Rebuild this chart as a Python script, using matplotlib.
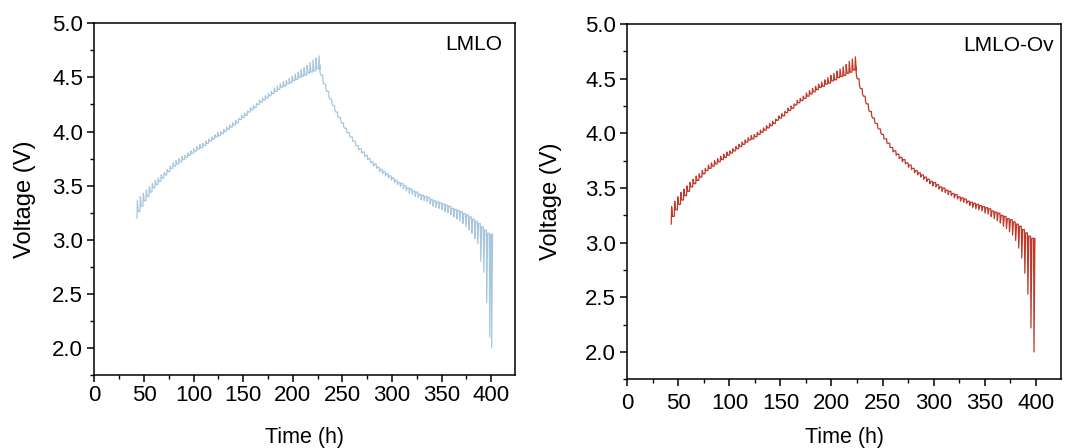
import numpy as np
import matplotlib
matplotlib.use("Agg")
import matplotlib.pyplot as plt
from matplotlib.ticker import MultipleLocator

plt.rcParams['font.family'] = ['Liberation Sans', 'DejaVu Sans']

# ---- LMLO (left) ----
# charge pulses: start time (h), relaxed voltage, peak voltage
lmlo_t_chg = [43, 46, 49, 52, 55, 58, 61, 64, 67, 70, 73, 76, 79, 82, 85, 88, 91, 94, 97, 100,
              103, 106, 109, 112, 115, 118, 121, 124, 127, 130, 133, 136, 139, 142, 145, 148, 151,
              154, 157, 160, 163, 166, 169, 172, 175, 178, 181, 184, 187, 190, 193, 196, 199, 202,
              205, 208, 211, 214, 217, 220, 223, 226]
lmlo_lo_chg = [3.20, 3.26, 3.31, 3.36, 3.40, 3.44, 3.48, 3.51, 3.54, 3.57, 3.60, 3.63, 3.66, 3.68,
               3.70, 3.72, 3.74, 3.76, 3.78, 3.80, 3.82, 3.84, 3.85, 3.87, 3.89, 3.91, 3.93, 3.95,
               3.96, 3.98, 4.00, 4.02, 4.04, 4.06, 4.08, 4.11, 4.13, 4.15, 4.18, 4.20, 4.22, 4.25,
               4.27, 4.29, 4.31, 4.33, 4.35, 4.37, 4.39, 4.41, 4.42, 4.44, 4.45, 4.47, 4.48, 4.50,
               4.51, 4.52, 4.54, 4.55, 4.56, 4.58]
lmlo_hi_chg = [3.36, 3.40, 3.43, 3.46, 3.49, 3.52, 3.55, 3.57, 3.60, 3.62, 3.65, 3.68, 3.71, 3.73,
               3.75, 3.77, 3.78, 3.80, 3.82, 3.84, 3.86, 3.88, 3.89, 3.91, 3.93, 3.95, 3.97, 3.99,
               4.00, 4.02, 4.04, 4.06, 4.08, 4.10, 4.12, 4.15, 4.17, 4.19, 4.22, 4.24, 4.26, 4.29,
               4.31, 4.33, 4.35, 4.37, 4.40, 4.42, 4.44, 4.46, 4.47, 4.49, 4.51, 4.53, 4.55, 4.57,
               4.59, 4.61, 4.64, 4.66, 4.68, 4.70]
# discharge pulses: start time (h), relaxed voltage, trough voltage
lmlo_t_dis = [227, 230, 233, 236, 239, 242, 245, 248, 251, 254, 257, 260, 263, 266, 269, 272, 275,
              278, 281, 284, 287, 290, 293, 296, 299, 302, 305, 308, 311, 314, 317, 320, 323, 326,
              329, 332, 335, 338, 341, 344, 347, 350, 353, 356, 359, 362, 365, 368, 371, 374, 377,
              380, 383, 386, 389, 392, 395, 398, 400]
lmlo_up_dis = [4.62, 4.52, 4.44, 4.37, 4.30, 4.24, 4.18, 4.13, 4.08, 4.03, 3.99, 3.95, 3.91, 3.87,
               3.84, 3.81, 3.78, 3.75, 3.72, 3.70, 3.67, 3.65, 3.63, 3.61, 3.59, 3.57, 3.55, 3.53,
               3.52, 3.50, 3.48, 3.47, 3.45, 3.44, 3.42, 3.41, 3.40, 3.39, 3.37, 3.36, 3.35, 3.34,
               3.33, 3.32, 3.31, 3.29, 3.28, 3.27, 3.26, 3.24, 3.23, 3.21, 3.19, 3.17, 3.15, 3.12,
               3.09, 3.06, 3.05]
lmlo_dn_dis = [4.55, 4.46, 4.39, 4.32, 4.26, 4.20, 4.14, 4.09, 4.04, 3.99, 3.95, 3.91, 3.87, 3.83,
               3.80, 3.77, 3.74, 3.71, 3.68, 3.66, 3.63, 3.61, 3.59, 3.57, 3.55, 3.53, 3.51, 3.49,
               3.47, 3.45, 3.43, 3.42, 3.40, 3.39, 3.37, 3.36, 3.35, 3.33, 3.31, 3.30, 3.29, 3.28,
               3.26, 3.25, 3.23, 3.21, 3.19, 3.17, 3.15, 3.12, 3.09, 3.06, 3.01, 2.96, 2.80, 2.70,
               2.42, 2.10, 2.00]

# ---- LMLO-Ov (right) ----
ov_t_chg = [43, 46, 49, 52, 55, 58, 61, 64, 67, 70, 73, 76, 79, 82, 85, 88, 91, 94, 97, 100,
            103, 106, 109, 112, 115, 118, 121, 124, 127, 130, 133, 136, 139, 142, 145, 148, 151,
            154, 157, 160, 163, 166, 169, 172, 175, 178, 181, 184, 187, 190, 193, 196, 199, 202,
            205, 208, 211, 214, 217, 220, 223]
ov_lo_chg = [3.17, 3.24, 3.30, 3.35, 3.39, 3.43, 3.47, 3.51, 3.54, 3.57, 3.60, 3.63, 3.66, 3.68,
             3.70, 3.72, 3.74, 3.76, 3.78, 3.80, 3.82, 3.84, 3.86, 3.88, 3.90, 3.92, 3.94, 3.95,
             3.97, 3.99, 4.01, 4.03, 4.05, 4.07, 4.09, 4.12, 4.14, 4.16, 4.19, 4.21, 4.23, 4.26,
             4.28, 4.30, 4.32, 4.34, 4.36, 4.38, 4.40, 4.42, 4.43, 4.45, 4.46, 4.48, 4.49, 4.51,
             4.52, 4.53, 4.55, 4.56, 4.58]
ov_hi_chg = [3.33, 3.38, 3.42, 3.46, 3.49, 3.52, 3.55, 3.58, 3.61, 3.63, 3.66, 3.68, 3.71, 3.73,
             3.75, 3.77, 3.79, 3.81, 3.83, 3.84, 3.86, 3.88, 3.90, 3.92, 3.94, 3.96, 3.98, 3.99,
             4.01, 4.03, 4.05, 4.07, 4.09, 4.11, 4.13, 4.16, 4.18, 4.20, 4.23, 4.25, 4.27, 4.30,
             4.32, 4.34, 4.37, 4.39, 4.41, 4.43, 4.45, 4.47, 4.49, 4.51, 4.53, 4.55, 4.57, 4.59,
             4.61, 4.63, 4.66, 4.68, 4.70]
ov_t_dis = [224, 227, 230, 233, 236, 239, 242, 245, 248, 251, 254, 257, 260, 263, 266, 269, 272,
            275, 278, 281, 284, 287, 290, 293, 296, 299, 302, 305, 308, 311, 314, 317, 320, 323,
            326, 329, 332, 335, 338, 341, 344, 347, 350, 353, 356, 359, 362, 365, 368, 371, 374,
            377, 380, 383, 386, 389, 392, 395, 398]
ov_up_dis = [4.60, 4.50, 4.41, 4.34, 4.27, 4.20, 4.14, 4.09, 4.04, 3.99, 3.95, 3.91, 3.87, 3.84,
             3.81, 3.78, 3.76, 3.73, 3.71, 3.68, 3.66, 3.64, 3.62, 3.60, 3.58, 3.56, 3.55, 3.53,
             3.51, 3.50, 3.48, 3.47, 3.45, 3.44, 3.42, 3.41, 3.40, 3.38, 3.37, 3.36, 3.35, 3.34,
             3.33, 3.32, 3.31, 3.29, 3.28, 3.27, 3.25, 3.24, 3.22, 3.21, 3.19, 3.17, 3.15, 3.12,
             3.09, 3.06, 3.04]
ov_dn_dis = [4.53, 4.44, 4.36, 4.29, 4.22, 4.16, 4.10, 4.05, 4.00, 3.95, 3.91, 3.87, 3.83, 3.80,
             3.77, 3.74, 3.72, 3.69, 3.67, 3.64, 3.62, 3.60, 3.58, 3.56, 3.54, 3.52, 3.51, 3.49,
             3.47, 3.46, 3.44, 3.43, 3.41, 3.40, 3.38, 3.37, 3.36, 3.34, 3.32, 3.31, 3.30, 3.29,
             3.27, 3.26, 3.24, 3.22, 3.20, 3.18, 3.15, 3.13, 3.10, 3.07, 3.02, 2.95, 2.86, 2.72,
             2.53, 2.22, 2.00]


def gitt_path(t, v_rest, v_pulse):
    # each pulse: jump to v_pulse, relax back to the next rest value
    xs, ys = [], []
    for k in range(len(t)):
        nxt = v_rest[k + 1] if k + 1 < len(t) else v_rest[k]
        xs += [t[k], t[k] + 0.4, t[k] + 1.3]
        ys += [v_rest[k], v_pulse[k], nxt]
    return xs, ys


def style_axes(ax, xmax, xpad, ypad, tpad):
    ax.set_xlim(0, xmax)
    ax.set_ylim(1.75, 5.0)
    ax.xaxis.set_major_locator(MultipleLocator(50))
    ax.xaxis.set_minor_locator(MultipleLocator(25))
    ax.yaxis.set_major_locator(MultipleLocator(0.5))
    ax.yaxis.set_minor_locator(MultipleLocator(0.25))
    ax.tick_params(which='major', direction='out', length=5, width=1.1, labelsize=16, pad=3)
    ax.tick_params(axis='x', which='major', pad=tpad)
    ax.tick_params(which='minor', direction='out', length=3, width=1.0)
    ax.set_yticks([2.0, 2.5, 3.0, 3.5, 4.0, 4.5, 5.0])
    ax.yaxis.set_major_formatter(matplotlib.ticker.FormatStrFormatter('%.1f'))
    for s in ax.spines.values():
        s.set_linewidth(1.1)
    ax.set_xlabel('Time (h)', fontsize=15.5, labelpad=xpad)
    ax.set_ylabel('Voltage (V)', fontsize=17, labelpad=ypad)


fig = plt.figure(figsize=(10.72, 4.48), dpi=100)
ax1 = fig.add_axes([0.088, 0.163, 0.3925, 0.785])
ax2 = fig.add_axes([0.5852, 0.1533, 0.4043, 0.793])

blue = '#a8c7dd'
red = '#c0392b'

x, y = gitt_path(lmlo_t_chg, lmlo_lo_chg, lmlo_hi_chg)
xd, yd = gitt_path(lmlo_t_dis, lmlo_up_dis, lmlo_dn_dis)
ax1.plot(x + xd, y + yd, color=blue, lw=0.9)
style_axes(ax1, 424, 14.5, 11.5, 2.5)
ax1.text(0.97, 0.94, 'LMLO', transform=ax1.transAxes, ha='right', va='center', fontsize=15)

x, y = gitt_path(ov_t_chg, ov_lo_chg, ov_hi_chg)
xd, yd = gitt_path(ov_t_dis, ov_up_dis, ov_dn_dis)
ax2.plot(x + xd, y + yd, color=red, lw=0.9)
style_axes(ax2, 424.6, 9, 16.5, 5)
ax2.text(0.985, 0.94, 'LMLO-Ov', transform=ax2.transAxes, ha='right', va='center', fontsize=15)

fig.savefig('out.png', dpi=100)
